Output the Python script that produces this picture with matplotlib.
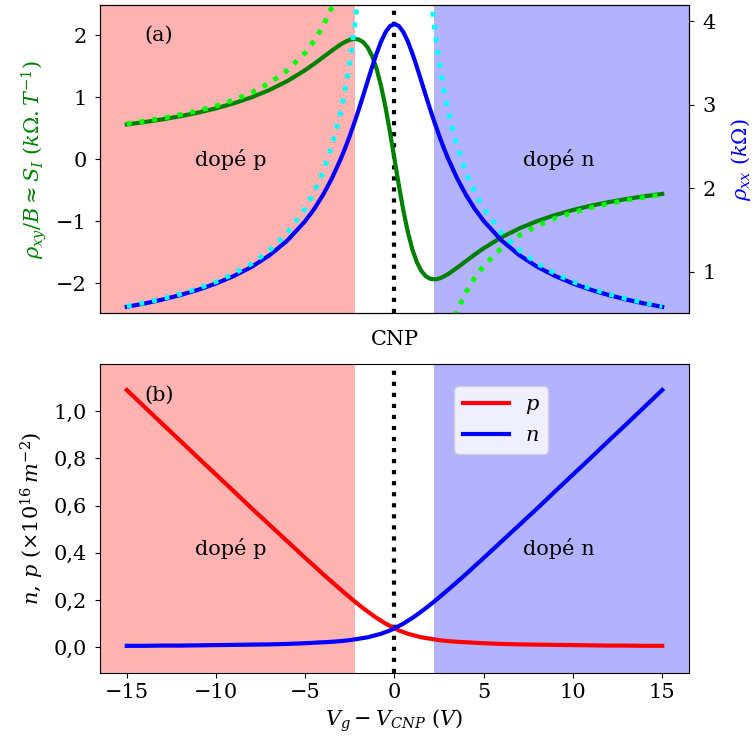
import numpy as np
import matplotlib
matplotlib.use("Agg")
import matplotlib.pyplot as plt
from matplotlib.ticker import FuncFormatter

plt.rcParams['font.family'] = 'serif'
plt.rcParams['mathtext.fontset'] = 'dejavuserif'
plt.rcParams['font.size'] = 15

# gate voltage V_g - V_CNP (V)
vg = [-15, -14, -13, -12, -11, -10, -9, -8, -7, -6, -5, -4.5, -4, -3.5,
      -3, -2.75, -2.5, -2.25, -2, -1.75, -1.5, -1.25, -1, -0.75, -0.5, -0.25,
      0, 0.25, 0.5, 0.75, 1, 1.25, 1.5, 1.75, 2, 2.25, 2.5, 2.75, 3,
      3.5, 4, 4.5, 5, 6, 7, 8, 9, 10, 11, 12, 13, 14, 15]

# rho_xx (kOhm)
rho_xx = [0.580, 0.620, 0.667, 0.721, 0.784, 0.859, 0.949, 1.059, 1.198, 1.375, 1.608, 1.753, 1.923, 2.123,
          2.358, 2.490, 2.633, 2.785, 2.946, 3.115, 3.287, 3.457, 3.617, 3.759, 3.871, 3.944,
          3.969, 3.944, 3.871, 3.759, 3.617, 3.457, 3.287, 3.115, 2.946, 2.785, 2.633, 2.490, 2.358,
          2.123, 1.923, 1.753, 1.608, 1.375, 1.198, 1.059, 0.949, 0.859, 0.784, 0.721, 0.667, 0.620, 0.580]

# rho_xy / B (kOhm/T)
rho_xy = [0.560, 0.598, 0.642, 0.692, 0.750, 0.819, 0.900, 0.997, 1.115, 1.259, 1.435, 1.536, 1.643, 1.751,
          1.852, 1.893, 1.924, 1.937, 1.927, 1.885, 1.799, 1.658, 1.453, 1.177, 0.832, 0.432,
          0.0, -0.432, -0.832, -1.177, -1.453, -1.658, -1.799, -1.885, -1.927, -1.937, -1.924, -1.893, -1.852,
          -1.751, -1.643, -1.536, -1.435, -1.259, -1.115, -0.997, -0.900, -0.819, -0.750, -0.692, -0.642, -0.598, -0.560]

# densities (x1e16 m^-2)
p_dens = [1.089, 1.017, 0.945, 0.874, 0.802, 0.731, 0.660, 0.588, 0.518, 0.448, 0.378, 0.344, 0.309, 0.276,
          0.243, 0.227, 0.211, 0.195, 0.180, 0.165, 0.151, 0.137, 0.124, 0.112, 0.100, 0.090,
          0.080, 0.071, 0.064, 0.057, 0.052, 0.047, 0.042, 0.039, 0.036, 0.033, 0.030, 0.028, 0.026,
          0.023, 0.021, 0.019, 0.017, 0.014, 0.012, 0.011, 0.010, 0.009, 0.008, 0.007, 0.007, 0.006, 0.006]
n_dens = p_dens[::-1]

# single carrier approximations, p side and n side
vg_hole = [-15, -14, -13, -12, -11, -10, -9, -8, -7, -6, -5, -4.5, -4, -3.5, -3, -2.75, -2.5, -2.25, -2.05]
vg_elec = [2.05, 2.25, 2.5, 2.75, 3, 3.5, 4, 4.5, 5, 6, 7, 8, 9, 10, 11, 12, 13, 14, 15]
rho_xx_1c_hole = [0.586, 0.628, 0.677, 0.733, 0.800, 0.880, 0.977, 1.099, 1.256, 1.466, 1.759, 1.954, 2.199, 2.513,
                  2.932, 3.198, 3.518, 3.909, 4.290]
rho_xx_1c_elec = rho_xx_1c_hole[::-1]

vg_hall_hole = [-15, -14, -13, -12, -11, -10, -9, -8, -7, -6, -5, -4.5, -4, -3.5, -3.4]
vg_hall_elec = [3.4, 3.5, 4, 4.5, 5, 6, 7, 8, 9, 10, 11, 12, 13, 14, 15]
rho_xy_1c_hole = [0.572, 0.613, 0.661, 0.716, 0.781, 0.859, 0.954, 1.073, 1.227, 1.431, 1.717, 1.908, 2.147, 2.453, 2.526]
rho_xy_1c_elec = [-2.526, -2.453, -2.147, -1.908, -1.717, -1.431, -1.227, -1.073, -0.954, -0.859, -0.781, -0.716, -0.661, -0.613, -0.572]

v_cnp_width = 2.2

fig = plt.figure(figsize=(7.53, 7.49), dpi=100)
ax1 = fig.add_axes([0.1328, 0.582, 0.7822, 0.411])
ax3 = fig.add_axes([0.1328, 0.1015, 0.7822, 0.4125])

for ax in (ax1, ax3):
    ax.axvspan(-20, -v_cnp_width, color='red', alpha=0.3, lw=0)
    ax.axvspan(v_cnp_width, 20, color='blue', alpha=0.3, lw=0)
    ax.axvline(0, color='black', ls=':', lw=3)
    ax.set_xlim(-16.5, 16.5)
    ax.set_xticks([-15, -10, -5, 0, 5, 10, 15])
    ax.tick_params(axis='y', pad=6)

# (a) Hall and longitudinal resistivity
ax1.plot(vg, rho_xy, color='green', lw=3)
ax1.plot(vg_hall_hole, rho_xy_1c_hole, color='lime', ls=':', lw=3.5)
ax1.plot(vg_hall_elec, rho_xy_1c_elec, color='lime', ls=':', lw=3.5)
ax1.set_ylim(-2.48, 2.48)
ax1.set_yticks([-2, -1, 0, 1, 2])
ax1.set_ylabel(r'$\rho_{xy}/B \approx S_I\ (k\Omega.T^{-1})$', color='green', labelpad=5)
ax1.tick_params(axis='x', bottom=False, labelbottom=False)

ax2 = ax1.twinx()
ax2.plot(vg, rho_xx, color='blue', lw=3)
ax2.plot(vg_hole, rho_xx_1c_hole, color='cyan', ls=':', lw=3.5)
ax2.plot(vg_elec, rho_xx_1c_elec, color='cyan', ls=':', lw=3.5)
ax2.set_ylim(0.505, 4.194)
ax2.set_yticks([1, 2, 3, 4])
ax2.tick_params(axis='y', pad=6)
ax2.set_ylabel(r'$\rho_{xx}\ (k\Omega)$', color='blue', labelpad=10)

ax1.text(-13.2, 2.0, '(a)', ha='center', va='center')
ax1.text(-9.2, 0, 'dopé p', ha='center', va='center')
ax1.text(9.2, 0, 'dopé n', ha='center', va='center')

# (b) carrier densities
ax3.plot(vg, p_dens, color='red', lw=3, label='$p$')
ax3.plot(vg, n_dens, color='blue', lw=3, label='$n$')
ax3.set_ylim(-0.109, 1.199)
ax3.set_yticks([0, 0.2, 0.4, 0.6, 0.8, 1.0])
ax3.yaxis.set_major_formatter(FuncFormatter(lambda v, pos: f'{v:.1f}'.replace('.', ',')))
ax3.set_ylabel(r'$n,\, p\ (\times 10^{16}\, m^{-2})$', labelpad=5)
ax3.set_xlabel(r'$V_g - V_{CNP}\ (V)$')
ax3.legend(loc='upper left', bbox_to_anchor=(0.584, 0.961), handlelength=2.2)
ax3.text(-13.2, 1.067, '(b)', ha='center', va='center')
ax3.text(-9.2, 0.416, 'dopé p', ha='center', va='center')
ax3.text(9.2, 0.416, 'dopé n', ha='center', va='center')
ax3.text(0, 1.079, 'CNP', ha='center', va='center', transform=ax3.get_xaxis_transform())

fig.savefig('out.png', dpi=100)
